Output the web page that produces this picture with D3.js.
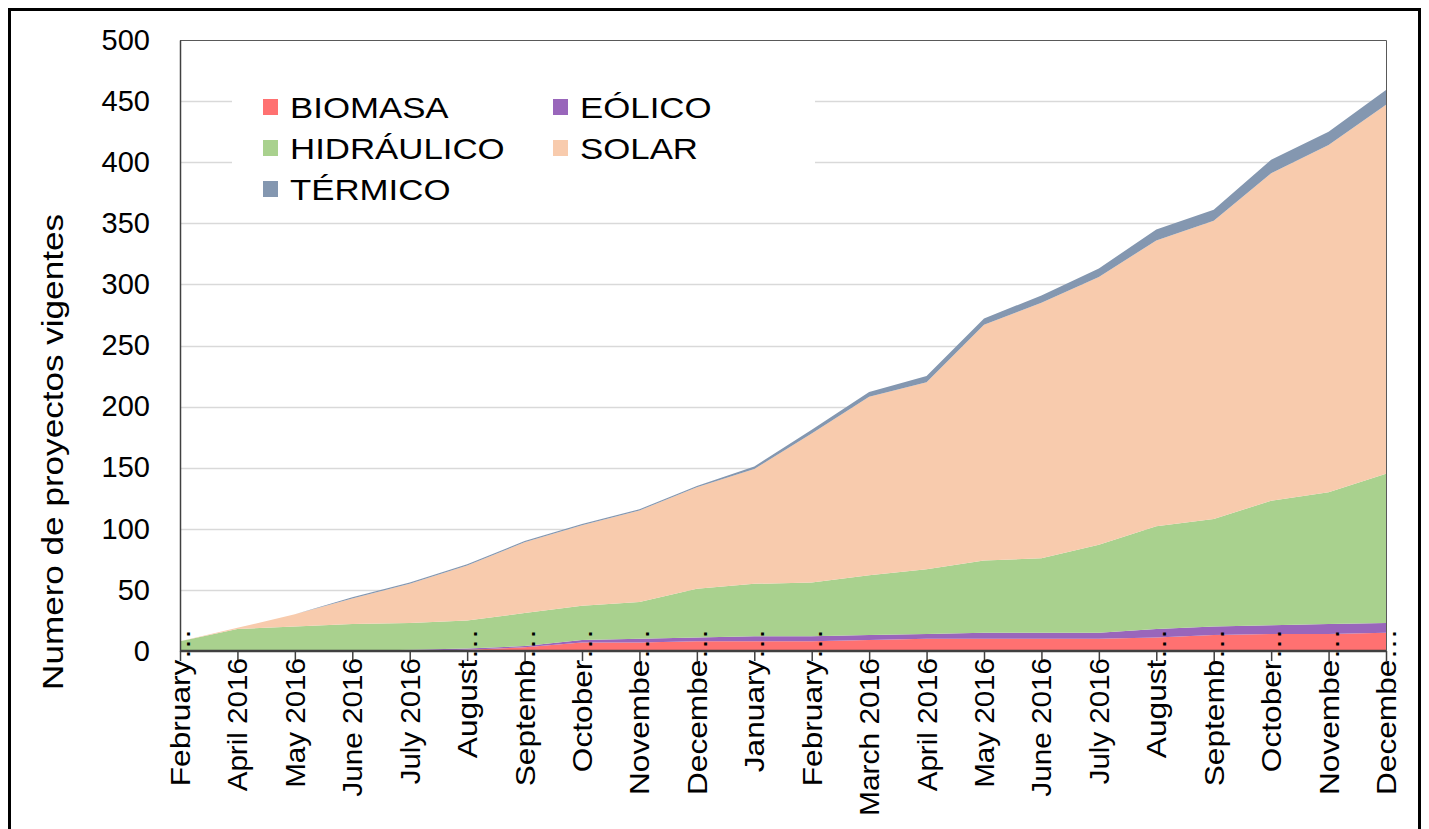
<!DOCTYPE html>
<html>
<head>
<meta charset="utf-8">
<script src="https://cdn.jsdelivr.net/npm/d3@7"></script>
<style>
  body { margin: 0; background: #fff; }
  text { font-family: "Liberation Sans", Arial, sans-serif; fill: #000; }
</style>
</head>
<body>
<div id="chart"></div>
<script>
// Category labels (as shown, truncated ones flagged)
const months = ['February', 'April 2016', 'May 2016', 'June 2016', 'July 2016', 'August', 'Septemb',
    'October', 'Novembe', 'Decembe', 'January', 'February', 'March 2016', 'April 2016', 'May 2016',
    'June 2016', 'July 2016', 'August', 'Septemb', 'October', 'Novembe', 'Decembe'];
const truncated = [true, false, false, false, false, true, true, true, true, true, true, true,
    false, false, false, false, false, true, true, true, true, true];

// Series values (number of projects)
const biomasa = [0, 0, 0, 0, 0, 1, 3, 7, 7, 8, 8, 8, 9, 10, 10, 10, 10, 11, 13, 14, 14, 15];
const eolico = [0, 0, 0, 0, 1, 1, 1, 2, 3, 3, 4, 4, 4, 4, 5, 5, 5, 7, 7, 7, 8, 8];
const hidraulico = [8, 18, 20, 22, 22, 23, 27, 28, 30, 40, 43, 44, 49, 53, 59, 61, 72, 84, 88, 102, 108, 122];
const solar = [0, 1, 10, 21, 32, 45, 58, 66, 75, 83, 94, 122, 146, 153, 193, 209, 219, 234, 244, 268, 284, 302];
const termico = [0, 0, 0, 1, 1, 1, 1, 1, 1, 1, 2, 3, 4, 5, 5, 6, 7, 9, 9, 11, 11, 12];

const seriesNames = ['BIOMASA', 'EÓLICO', 'HIDRÁULICO', 'SOLAR', 'TÉRMICO'];
const seriesColors = ['#FF7171', '#9966BB', '#A9D18E', '#F8CBAD', '#8497B0'];
const yTicks = [0, 50, 100, 150, 200, 250, 300, 350, 400, 450, 500];

// the original font sets letters wider than Liberation Sans (digits match),
// so widen only the letter part of a label
function widenLetters(sel, factor) {
    sel.each(function() {
        const node = this;
        const full = node.textContent;
        const total = node.getComputedTextLength();
        node.textContent = full.replace(/[0-9]/g, '');
        const letters = node.getComputedTextLength();
        node.textContent = full;
        node.setAttribute('textLength', total + letters * (factor - 1));
        node.setAttribute('lengthAdjust', 'spacingAndGlyphs');
    });
}

function draw() {
    const dims = {
        width: 1429,
        height: 829,
        left: 180,
        right: 1386,
        top: 40,
        bottom: 651
    };

    // build rows for the stack
    const rows = months.map((m, i) => ({
        i: i,
        'BIOMASA': biomasa[i],
        'EÓLICO': eolico[i],
        'HIDRÁULICO': hidraulico[i],
        'SOLAR': solar[i],
        'TÉRMICO': termico[i]
    }));
    const stacked = d3.stack().keys(seriesNames)(rows);

    const x = d3.scalePoint()
        .domain(d3.range(months.length))
        .range([dims.left, dims.right]);
    const y = d3.scaleLinear()
        .domain([0, 500])
        .range([dims.bottom, dims.top]);
    const color = d3.scaleOrdinal().domain(seriesNames).range(seriesColors);

    const svg = d3.select('#chart')
        .append('svg')
        .attr('width', dims.width)
        .attr('height', dims.height);

    // outer frame
    svg.append('rect')
        .attr('x', 9.5).attr('y', 9.5)
        .attr('width', 1410).attr('height', 840)
        .attr('fill', 'none')
        .attr('stroke', '#000')
        .attr('stroke-width', 3);

    // gridlines
    svg.append('g')
        .selectAll('line')
        .data(yTicks.slice(1, -1))
        .join('line')
        .attr('x1', dims.left).attr('x2', dims.right)
        .attr('y1', d => Math.round(y(d)) + 0.5).attr('y2', d => Math.round(y(d)) + 0.5)
        .attr('stroke', '#d9d9d9')
        .attr('stroke-width', 1.5);

    // legend background hides the gridlines behind it
    svg.append('rect')
        .attr('x', 232).attr('y', 72)
        .attr('width', 583).attr('height', 142)
        .attr('fill', '#fff');

    // stacked areas
    const area = d3.area()
        .x(d => x(d.data.i))
        .y0(d => y(d[0]))
        .y1(d => y(d[1]));

    svg.append('g')
        .selectAll('path')
        .data(stacked)
        .join('path')
        .attr('d', area)
        .attr('fill', d => color(d.key));

    // plot border (top / right)
    svg.append('path')
        .attr('d', `M${dims.left},${dims.top + 0.5}H${dims.right + 0.5}V${dims.bottom}`)
        .attr('fill', 'none')
        .attr('stroke', '#595959')
        .attr('stroke-width', 1);

    // y axis
    const yAxis = svg.append('g')
        .attr('transform', `translate(${dims.left},0)`)
        .call(d3.axisLeft(y).tickValues(yTicks).tickSize(0).tickPadding(30));
    yAxis.select('.domain').attr('stroke', '#404040').attr('stroke-width', 1.5);
    yAxis.selectAll('text')
        .style('font-family', '"Liberation Sans", Arial, sans-serif')
        .style('font-size', '29px')
        .attr('fill', '#000');

    // x axis
    const xAxis = svg.append('g')
        .attr('transform', `translate(0,${dims.bottom})`)
        .call(d3.axisBottom(x).tickSize(10).tickFormat(''));
    xAxis.select('.domain').attr('stroke', '#404040').attr('stroke-width', 2.5)
        .attr('d', `M${dims.left},0H${dims.right}`);
    xAxis.selectAll('.tick line').attr('stroke', '#404040').attr('stroke-width', 1.5);

    // rotated category labels (Excel style, truncated with ellipsis)
    const xLabels = svg.append('g')
        .selectAll('text')
        .data(months)
        .join('text')
        .attr('transform', (d, i) => `translate(${x(i) + 10},${truncated[i] ? 628 : 658}) rotate(-90)`)
        .attr('text-anchor', 'end')
        .style('font-size', '28px')
        .text((d, i) => truncated[i] ? d + '…' : d);
    widenLetters(xLabels, 1.13);

    // y axis title
    const yTitle = svg.append('text')
        .attr('transform', `translate(63,452) rotate(-90)`)
        .attr('text-anchor', 'middle')
        .style('font-size', '29px')
        .text('Numero de proyectos vigentes');
    widenLetters(yTitle, 1.21);

    // legend
    const legendPos = [
        [263, 107], [553, 107],
        [263, 148], [553, 148],
        [263, 189]
    ];
    const legend = svg.append('g')
        .selectAll('g')
        .data(seriesNames)
        .join('g')
        .attr('transform', (d, i) => `translate(${legendPos[i][0]},${legendPos[i][1]})`);
    legend.append('rect')
        .attr('x', 0).attr('y', -8)
        .attr('width', 15).attr('height', 16)
        .attr('fill', d => color(d));
    const legendText = legend.append('text')
        .attr('x', 27)
        .attr('y', 11)
        .style('font-size', '30px')
        .text(d => d);
    widenLetters(legendText, 1.16);
}

draw();
</script>
</body>
</html>
